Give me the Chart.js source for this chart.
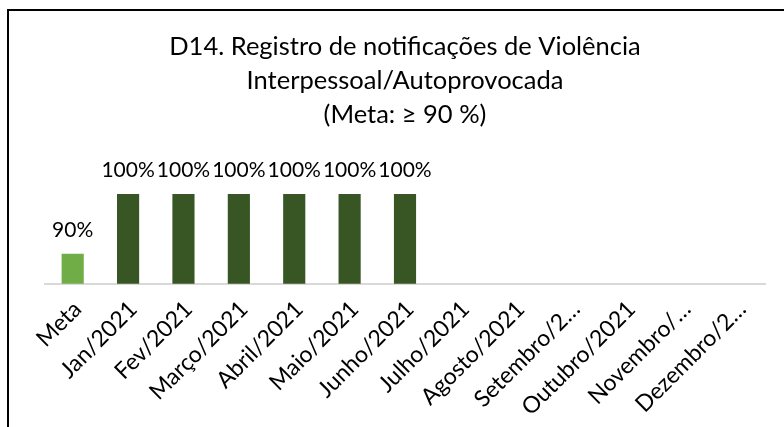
<!DOCTYPE html>
<html>
<head>
<meta charset="utf-8">
<script src="https://cdn.jsdelivr.net/npm/chart.js@4/dist/chart.umd.min.js"></script>
<style>
  html, body { margin: 0; padding: 0; background: #fff; }
  #wrap { position: relative; width: 784px; height: 427px; overflow: hidden; }
  #frame { position: absolute; left: 7px; top: 9px; width: 820px; height: 480px; border: 2px solid #000; box-sizing: border-box; }
  #d14Chart { position: absolute; left: 0; top: 0; }
</style>
</head>
<body>
<div id="wrap">
  <div id="frame"></div>
  <canvas id="d14Chart" width="784" height="427"></canvas>
</div>
<script>
// categories and values
const categorias = ["Meta", "Jan/2021", "Fev/2021", "Março/2021", "Abril/2021", "Maio/2021", "Junho/2021",
  "Julho/2021", "Agosto/2021", "Setembro/2…", "Outubro/2021", "Novembro/…", "Dezembro/2…"];
const percentuais = [90, 100, 100, 100, 100, 100, 100, null, null, null, null, null, null];
const coresBarras = ["#70ad47", "#375623", "#375623", "#375623", "#375623", "#375623", "#375623",
  "#375623", "#375623", "#375623", "#375623", "#375623", "#375623"];
const tituloLinhas = ["D14. Registro de notificações de Violência", "Interpessoal/Autoprovocada", "(Meta: ≥ 90 %)"];

const fonte = "Lato, 'Open Sans', sans-serif";

// draw "100%" etc. above each bar
const rotulosPlugin = {
    id: "rotulos",
    afterDatasetsDraw(chart) {
        const ctx = chart.ctx;
        const meta = chart.getDatasetMeta(0);
        ctx.save();
        ctx.font = "21px " + fonte;
        ctx.fillStyle = "#000";
        ctx.textAlign = "center";
        ctx.textBaseline = "alphabetic";
        meta.data.forEach(function (bar, i) {
            const v = percentuais[i];
            if (v === null || v === undefined) return;
            ctx.fillText(v + "%", bar.x, bar.y - 17);
        });
        ctx.restore();
    }
};

new Chart("d14Chart", {
    type: "bar",
    data: {
        labels: categorias,
        datasets: [{
            data: percentuais,
            backgroundColor: coresBarras,
            barPercentage: 0.4,
            categoryPercentage: 1.0
        }]
    },
    options: {
        responsive: false,
        animation: false,
        layout: { padding: { left: 45, right: 19, top: 0, bottom: 2 } },
        plugins: {
            legend: { display: false },
            tooltip: { enabled: false },
            title: {
                display: true,
                text: tituloLinhas,
                color: "#000",
                font: { family: fonte, size: 25.5, weight: "normal", lineHeight: 1.333 },
                padding: { top: 30, bottom: 62 }
            }
        },
        scales: {
            x: {
                grid: { display: false },
                border: { display: true, color: "#d9d9d9", width: 2 },
                ticks: {
                    color: "#000",
                    font: { family: fonte, size: 23 },
                    minRotation: 45,
                    maxRotation: 45,
                    autoSkip: false,
                    padding: 4,
                    labelOffset: 5
                }
            },
            y: {
                display: false,
                min: 85,
                max: 100
            }
        }
    },
    plugins: [rotulosPlugin]
});
</script>
</body>
</html>
